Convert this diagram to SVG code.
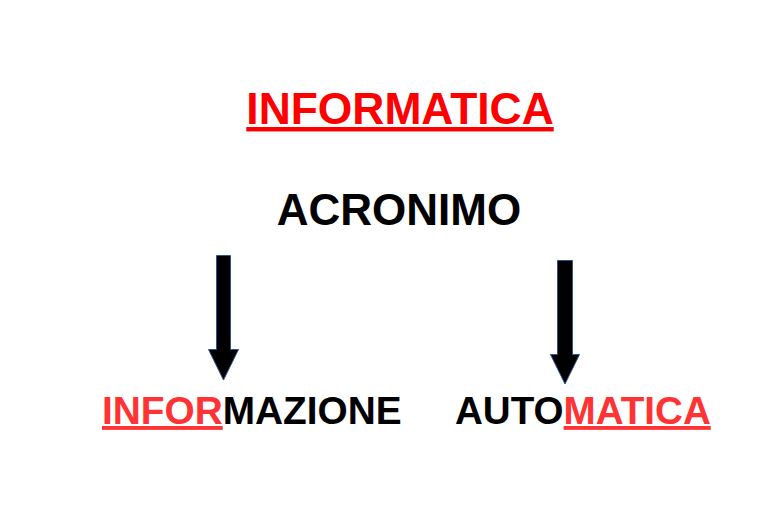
<svg xmlns="http://www.w3.org/2000/svg" width="775" height="516" viewBox="0 0 775 516">
<style>
.t{font-family:"Liberation Sans",Arial,sans-serif;font-weight:bold}
.arrow{fill:#000;stroke:#2F528F;stroke-width:1}
.red{fill:#FF3333;text-decoration:underline}
</style>
<rect width="775" height="516" fill="#fff"/>
<g id="title"><text class="t" x="400" y="124" font-size="44.4" text-anchor="middle" fill="#FF0000" text-decoration="underline">INFORMATICA</text></g>
<g id="acronimo"><text class="t" x="399" y="225" font-size="44" text-anchor="middle" fill="#000">ACRONIMO</text></g>
<g id="connectors">
<path class="arrow" d="M216.5,255.5 H230.5 V349.5 H238.5 L223.5,380 L208.5,349.5 H216.5 Z"/>
<path class="arrow" d="M557.5,260.5 H572.5 V354.5 H579.5 L565,384 L550.5,354.5 H557.5 Z"/>
</g>
<g id="informazione"><text class="t" x="102" y="424" font-size="38.8" fill="#000"><tspan class="red">INFOR</tspan>MAZIONE</text></g>
<g id="automatica"><text class="t" x="455" y="424" font-size="38.6" fill="#000">AUTO<tspan class="red">MATICA</tspan></text></g>
</svg>
